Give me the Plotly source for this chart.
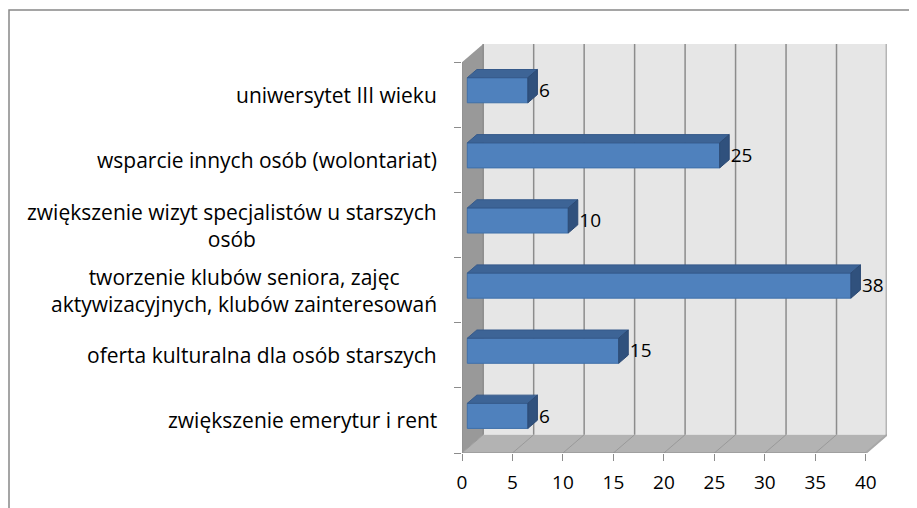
import plotly.graph_objects as go

# ---------------- data ----------------
categories = [
    "zwiększenie emerytur i rent",
    "oferta kulturalna dla osób starszych",
    "tworzenie klubów seniora, zajęc<br>aktywizacyjnych, klubów zainteresowań",
    "zwiększenie wizyt specjalistów u starszych<br>osób",
    "wsparcie innych osób (wolontariat)",
    "uniwersytet III wieku",
]
values = [6, 15, 38, 10, 25, 6]
x_ticks = [0, 5, 10, 15, 20, 25, 30, 35, 40]

# ---------------- style / geometry ----------------
X_MAX = 40
N = len(categories)
DX, DY = 2.1, 0.28          # depth offset of the back wall (axis units)
D1, D2 = 0.25, 0.70         # bar front / back depth fractions
BAR_W = 0.385
FONT = "Open Sans"
FS_CAT = 21
FS_NUM = 19
GRID = "#8C8C8C"
FRONT = "#4F81BD"
TOP = "#3D6496"
SIDE = "#30517D"

# page body has an 8px margin -> figure is 909x500 placed at (8, 8)
W, H = 909, 500
L, R, T, B = 454, 30, 36, 55
pw, ph = W - L - R, H - T - B

fig = go.Figure()

# bar front faces
ys = [i + 0.5 + D1 * DY for i in range(N)]
fig.add_trace(go.Bar(
    orientation="h", x=values, y=ys, base=D1 * DX, width=BAR_W,
    marker=dict(color=FRONT, line=dict(color="#3E70AA", width=1)),
    hoverinfo="skip", showlegend=False,
))

ddx, ddy = (D2 - D1) * DX, (D2 - D1) * DY
for v, yc in zip(values, ys):
    x0 = D1 * DX
    yt, yb = yc + BAR_W / 2, yc - BAR_W / 2
    # top face
    fig.add_trace(go.Scatter(
        x=[x0, x0 + v, x0 + v + ddx, x0 + ddx, x0],
        y=[yt, yt, yt + ddy, yt + ddy, yt],
        fill="toself", fillcolor=TOP, mode="lines",
        line=dict(color="#35598A", width=1), hoverinfo="skip", showlegend=False,
    ))
    # side face
    fig.add_trace(go.Scatter(
        x=[x0 + v, x0 + v + ddx, x0 + v + ddx, x0 + v, x0 + v],
        y=[yb, yb + ddy, yt + ddy, yt, yb],
        fill="toself", fillcolor=SIDE, mode="lines",
        line=dict(color="#2C4A74", width=1), hoverinfo="skip", showlegend=False,
    ))

# value labels
fig.add_trace(go.Scatter(
    x=[D1 * DX + v + ddx + 0.15 for v in values],
    y=[yc - 0.03 for yc in ys],
    text=[str(v) for v in values], mode="text", textposition="middle right",
    textfont=dict(family=FONT, size=FS_NUM, color="#000000"),
    hoverinfo="skip", showlegend=False,
))

# ---------------- walls, floor, gridlines ----------------
shapes = []
shapes.append(dict(type="rect", xref="x", yref="y", x0=DX, x1=X_MAX + DX, y0=DY, y1=N + DY,
                   fillcolor="#E6E6E6", line_width=0, layer="below"))
shapes.append(dict(type="path", xref="x", yref="y",
                   path=f"M 0 0 L {DX} {DY} L {DX} {N + DY} L 0 {N} Z",
                   fillcolor="#999999", line_width=0, layer="below"))
shapes.append(dict(type="path", xref="x", yref="y",
                   path=f"M 0 0 L {X_MAX} 0 L {X_MAX + DX} {DY} L {DX} {DY} Z",
                   fillcolor="#B3B3B3", line_width=0, layer="below"))
for t in x_ticks:
    shapes.append(dict(type="line", xref="x", yref="y", x0=t + DX, x1=t + DX, y0=DY, y1=N + DY,
                       line=dict(color=GRID, width=1.5), layer="below"))
    shapes.append(dict(type="line", xref="x", yref="y", x0=t, x1=t + DX, y0=0, y1=DY,
                       line=dict(color="#999999", width=1), layer="below"))
# right wall edge
shapes.append(dict(type="line", xref="x", yref="y", x0=X_MAX + DX, x1=X_MAX + DX, y0=DY, y1=N + DY,
                   line=dict(color="#B5B5B5", width=3), layer="below"))
shapes.append(dict(type="line", xref="x", yref="y", x0=X_MAX, x1=X_MAX + DX, y0=0, y1=DY,
                   line=dict(color="#A8A8A8", width=2), layer="below"))
# front axis edges
shapes.append(dict(type="line", xref="x", yref="y", x0=0, x1=X_MAX, y0=0, y1=0,
                   line=dict(color=GRID, width=1)))
shapes.append(dict(type="line", xref="x", yref="y", x0=0, x1=0, y0=0, y1=N,
                   line=dict(color=GRID, width=1)))
# chart border
shapes.append(dict(type="rect", xref="paper", yref="paper",
                   x0=(1 - L) / pw, x1=1 + 60 / pw, y0=-80 / ph, y1=(H - B - 2) / ph,
                   line=dict(color="#888888", width=1.5), fillcolor="rgba(0,0,0,0)"))

annotations = []
for i, c in enumerate(categories):
    annotations.append(dict(
        xref="paper", x=0, xanchor="right", xshift=-23,
        yref="y", y=i + 0.5, yanchor="middle",
        text=c, align="center", showarrow=False,
        font=dict(family=FONT, size=FS_CAT, color="#000000"),
    ))

fig.update_layout(
    width=W, height=H,
    margin=dict(l=L, r=R, t=T, b=B),
    paper_bgcolor="white", plot_bgcolor="rgba(0,0,0,0)",
    shapes=shapes, annotations=annotations,
    barmode="overlay",
    xaxis=dict(range=[0, X_MAX + DX], tickvals=x_ticks, ticks="outside", ticklen=7,
               tickcolor=GRID, tickwidth=1, showgrid=False, zeroline=False, showline=False,
               tickfont=dict(family=FONT, size=FS_NUM, color="#000000"), ticklabelstandoff=5,
               fixedrange=True),
    yaxis=dict(range=[0, N + DY], tickvals=list(range(N + 1)), ticks="outside", ticklen=7,
               tickcolor=GRID, tickwidth=1, showticklabels=False, showgrid=False,
               zeroline=False, showline=False, fixedrange=True),
    showlegend=False,
)

fig.write_html("out.html")
